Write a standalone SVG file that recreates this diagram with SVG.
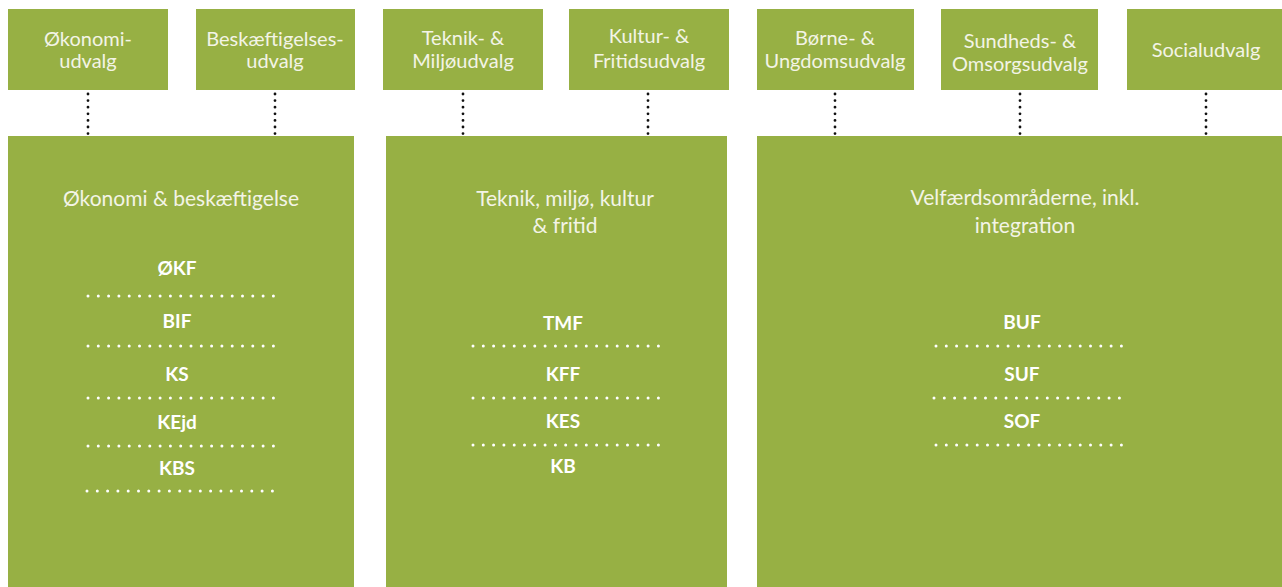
<svg xmlns="http://www.w3.org/2000/svg" width="1282" height="587" viewBox="0 0 1282 587">
<style>
.box{fill:#97B044}
.t{font-family:Lato,"Liberation Sans",sans-serif;font-size:20px;fill:#F3F4E6;text-anchor:middle}
.h{font-family:Lato,"Liberation Sans",sans-serif;font-size:21px;fill:#F3F4E6;text-anchor:middle}
.c{font-family:Lato,"Liberation Sans",sans-serif;font-size:19px;font-weight:bold;fill:#FFFFFF;text-anchor:middle}
.sep{stroke:#FFFFFF;stroke-width:3;stroke-linecap:round;stroke-dasharray:0 10.3;fill:none}
.con{stroke:#111111;stroke-width:2.8;stroke-linecap:round;stroke-dasharray:0 6.6;fill:none}
</style>
<rect width="1282" height="587" fill="#FFFFFF"/>
<g id="connectors">
<line class="con" x1="88" y1="94" x2="88" y2="134"/>
<line class="con" x1="275" y1="94" x2="275" y2="134"/>
<line class="con" x1="463" y1="94" x2="463" y2="134"/>
<line class="con" x1="648" y1="94" x2="648" y2="134"/>
<line class="con" x1="835" y1="94" x2="835" y2="134"/>
<line class="con" x1="1020" y1="94" x2="1020" y2="134"/>
<line class="con" x1="1206" y1="94" x2="1206" y2="134"/>
</g>
<g id="n-okonomiudvalg">
<rect class="box" x="8" y="9" width="160" height="81"/>
<text class="t" x="88" y="46">Økonomi-</text>
<text class="t" x="88" y="68">udvalg</text>
</g>
<g id="n-beskaeftigelsesudvalg">
<rect class="box" x="196" y="9" width="159" height="81"/>
<text class="t" x="275" y="46">Beskæftigelses-</text>
<text class="t" x="275" y="68">udvalg</text>
</g>
<g id="n-teknikudvalg">
<rect class="box" x="383" y="9" width="160" height="81"/>
<text class="t" x="463" y="45">Teknik- &amp;</text>
<text class="t" x="463" y="68">Miljøudvalg</text>
</g>
<g id="n-kulturudvalg">
<rect class="box" x="569" y="9" width="160" height="81"/>
<text class="t" x="649" y="43">Kultur- &amp;</text>
<text class="t" x="649" y="68">Fritidsudvalg</text>
</g>
<g id="n-borneudvalg">
<rect class="box" x="757" y="9" width="157" height="81"/>
<text class="t" x="835" y="45">Børne- &amp;</text>
<text class="t" x="835" y="68">Ungdomsudvalg</text>
</g>
<g id="n-sundhedsudvalg">
<rect class="box" x="941" y="9" width="157" height="81"/>
<text class="t" x="1020" y="48">Sundheds- &amp;</text>
<text class="t" x="1020" y="71">Omsorgsudvalg</text>
</g>
<g id="n-socialudvalg">
<rect class="box" x="1127" y="9" width="160" height="81"/>
<text class="t" x="1206" y="57">Socialudvalg</text>
</g>
<g id="n-okonomi-beskaeftigelse">
<rect class="box" x="8" y="136" width="346" height="460"/>
<text class="h" x="181" y="206">Økonomi &amp; beskæftigelse</text>
<text class="c" x="177" y="275">ØKF</text>
<line class="sep" x1="88" y1="296" x2="276" y2="296"/>
<text class="c" x="177" y="328">BIF</text>
<line class="sep" x1="88" y1="346" x2="276" y2="346"/>
<text class="c" x="177" y="381">KS</text>
<line class="sep" x1="88" y1="398" x2="276" y2="398"/>
<text class="c" x="177" y="429">KEjd</text>
<line class="sep" x1="88" y1="446" x2="276" y2="446"/>
<text class="c" x="177" y="475">KBS</text>
<line class="sep" x1="87" y1="491" x2="275" y2="491"/>
</g>
<g id="n-teknik-miljo-kultur">
<rect class="box" x="386" y="136" width="341" height="460"/>
<text class="h" x="565" y="206">Teknik, miljø, kultur</text>
<text class="h" x="565" y="233">&amp; fritid</text>
<text class="c" x="563" y="330">TMF</text>
<line class="sep" x1="473" y1="346" x2="661" y2="346"/>
<text class="c" x="563" y="381">KFF</text>
<line class="sep" x1="473" y1="398" x2="661" y2="398"/>
<text class="c" x="563" y="428">KES</text>
<line class="sep" x1="473" y1="445" x2="661" y2="445"/>
<text class="c" x="563" y="473">KB</text>
</g>
<g id="n-velfaerd">
<rect class="box" x="757" y="136" width="530" height="460"/>
<text class="h" x="1025" y="205">Velfærdsområderne, inkl.</text>
<text class="h" x="1025" y="233">integration</text>
<text class="c" x="1022" y="329">BUF</text>
<line class="sep" x1="936" y1="346" x2="1124" y2="346"/>
<text class="c" x="1022" y="381">SUF</text>
<line class="sep" x1="934" y1="398" x2="1122" y2="398"/>
<text class="c" x="1022" y="428">SOF</text>
<line class="sep" x1="936" y1="445" x2="1124" y2="445"/>
</g>
</svg>
